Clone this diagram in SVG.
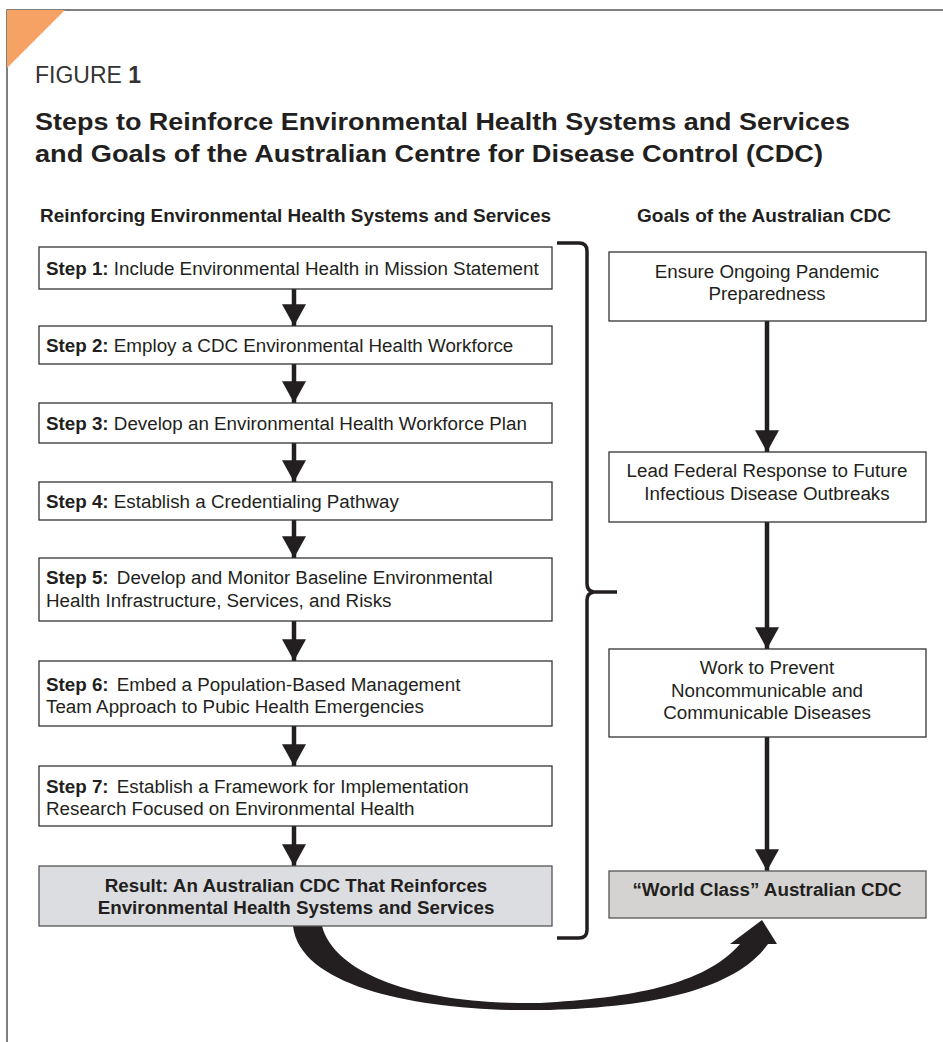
<svg xmlns="http://www.w3.org/2000/svg" width="943" height="1042" viewBox="0 0 943 1042">
<style>
.frame{stroke:#555;stroke-width:1.5;fill:none}
.box{fill:#fff;stroke:#333;stroke-width:1.3}
.res{fill:#dcdde0;stroke:#555;stroke-width:1.3}
.fin{fill:#d4d3d1;stroke:#555;stroke-width:1.3}
text{font-family:"Liberation Sans",Arial,sans-serif;fill:#231f20}
.t{font-size:18.8px}
.b{font-weight:bold}
.c{text-anchor:middle}
.hdr{font-size:17.5px;font-weight:bold}
.title{font-size:23px;font-weight:bold}
.conn{stroke:#231f20;stroke-width:4.5;fill:none}
</style>
<defs>
<marker id="ah" markerUnits="userSpaceOnUse" markerWidth="24" markerHeight="22" refX="11" refY="20" orient="0" viewBox="0 0 22 20">
<path d="M0 0 L22 0 L11 20 Z" fill="#231f20"/>
</marker>
</defs>
<g id="frame">
<path class="frame" d="M7 1042 V10 H943"/>
<path d="M7 10 H65 L7 68 Z" fill="#f7a265"/>
</g>
<g id="titles">
<text x="35" y="83" style="font-size:23px;font-weight:300;fill:#333" font-family="'Open Sans',sans-serif">FIGURE <tspan style="font-weight:bold">1</tspan></text>
<text class="title" x="35" y="130" textLength="815" lengthAdjust="spacingAndGlyphs">Steps to Reinforce Environmental Health Systems and Services</text>
<text class="title" x="35" y="162" textLength="788" lengthAdjust="spacingAndGlyphs">and Goals of the Australian Centre for Disease Control (CDC)</text>
<text class="hdr" x="40" y="222" textLength="511" lengthAdjust="spacingAndGlyphs">Reinforcing Environmental Health Systems and Services</text>
<text class="hdr" x="637" y="222" textLength="254" lengthAdjust="spacingAndGlyphs">Goals of the Australian CDC</text>
</g>
<g id="connectors">
<line class="conn" x1="294" y1="289" x2="294" y2="326" marker-end="url(#ah)"/>
<line class="conn" x1="294" y1="364" x2="294" y2="403" marker-end="url(#ah)"/>
<line class="conn" x1="294" y1="443" x2="294" y2="482" marker-end="url(#ah)"/>
<line class="conn" x1="294" y1="520" x2="294" y2="558" marker-end="url(#ah)"/>
<line class="conn" x1="294" y1="621" x2="294" y2="661" marker-end="url(#ah)"/>
<line class="conn" x1="294" y1="726" x2="294" y2="766" marker-end="url(#ah)"/>
<line class="conn" x1="294" y1="826" x2="294" y2="866" marker-end="url(#ah)"/>
<line class="conn" x1="767" y1="321" x2="767" y2="452" marker-end="url(#ah)"/>
<line class="conn" x1="767" y1="522" x2="767" y2="649" marker-end="url(#ah)"/>
<line class="conn" x1="767" y1="737" x2="767" y2="871" marker-end="url(#ah)"/>
<path d="M557 243 H579 Q587 243 587 251 V584 Q587 591 594 592 H617 M594 592 Q587 593 587 600 V930 Q587 938 579 938 H557" fill="none" stroke="#231f20" stroke-width="3.5"/>
<path d="M293 926 C300 990 430 1012 540 1010 C650 1008 735 990 768 944 L777 944 L762 920 L730 944 L740 944 C705 985 630 998 540 1003 C420 1005 335 975 322 926 Z" fill="#231f20"/>
</g>
<g id="step1"><rect class="box" x="39" y="247" width="513" height="42"/><text class="t" x="46" y="275"><tspan class="b">Step 1:</tspan> Include Environmental Health in Mission Statement</text></g>
<g id="step2"><rect class="box" x="39" y="326" width="513" height="38"/><text class="t" x="46" y="352"><tspan class="b">Step 2:</tspan> Employ a CDC Environmental Health Workforce</text></g>
<g id="step3"><rect class="box" x="39" y="403" width="513" height="40"/><text class="t" x="46" y="430"><tspan class="b">Step 3:</tspan> Develop an Environmental Health Workforce Plan</text></g>
<g id="step4"><rect class="box" x="39" y="482" width="513" height="38"/><text class="t" x="46" y="508"><tspan class="b">Step 4:</tspan> Establish a Credentialing Pathway</text></g>
<g id="step5"><rect class="box" x="39" y="558" width="513" height="63"/><text class="t" x="46" y="584"><tspan class="b">Step 5:</tspan> <tspan dx="3">Develop and Monitor Baseline Environmental</tspan></text><text class="t" x="46" y="607">Health Infrastructure, Services, and Risks</text></g>
<g id="step6"><rect class="box" x="39" y="661" width="513" height="65"/><text class="t" x="46" y="691"><tspan class="b">Step 6:</tspan> <tspan dx="3">Embed a Population-Based Management</tspan></text><text class="t" x="46" y="713">Team Approach to Pubic Health Emergencies</text></g>
<g id="step7"><rect class="box" x="39" y="766" width="513" height="60"/><text class="t" x="46" y="793"><tspan class="b">Step 7:</tspan> <tspan dx="3">Establish a Framework for Implementation</tspan></text><text class="t" x="46" y="815">Research Focused on Environmental Health</text></g>
<g id="result"><rect class="res" x="39" y="866" width="513" height="60"/><text class="t b c" x="296" y="892">Result: An Australian CDC That Reinforces</text><text class="t b c" x="296" y="914">Environmental Health Systems and Services</text></g>
<g id="goal1"><rect class="box" x="609" y="252" width="317" height="69"/><text class="t c" x="767" y="278">Ensure Ongoing Pandemic</text><text class="t c" x="767" y="300">Preparedness</text></g>
<g id="goal2"><rect class="box" x="609" y="452" width="317" height="70"/><text class="t c" x="767" y="477">Lead Federal Response to Future</text><text class="t c" x="767" y="500">Infectious Disease Outbreaks</text></g>
<g id="goal3"><rect class="box" x="609" y="649" width="317" height="88"/><text class="t c" x="767" y="674">Work to Prevent</text><text class="t c" x="767" y="697">Noncommunicable and</text><text class="t c" x="767" y="719">Communicable Diseases</text></g>
<g id="world"><rect class="fin" x="609" y="871" width="317" height="47"/><text class="t b c" x="767" y="896">“World Class” Australian CDC</text></g>
</svg>
